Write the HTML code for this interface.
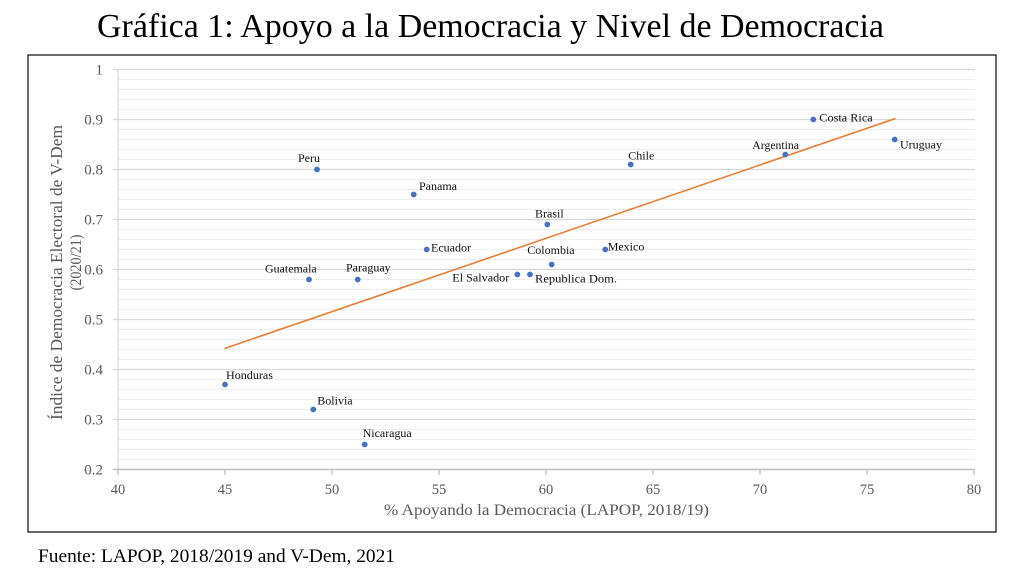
<!DOCTYPE html>
<html>
<head>
<meta charset="utf-8">
<style>
  html,body{margin:0;padding:0;background:#fff;}
  svg{display:block;}
  text{font-family:"Liberation Serif","Times New Roman",serif;}
</style>
</head>
<body>
<svg width="1024" height="576" viewBox="0 0 1024 576" xmlns="http://www.w3.org/2000/svg">
  <rect x="0" y="0" width="1024" height="576" fill="#fff"/>
  <!-- Title -->
  <text x="97" y="37" font-size="34" fill="#000" textLength="787" lengthAdjust="spacingAndGlyphs">Gráfica 1: Apoyo a la Democracia y Nivel de Democracia</text>

  <!-- chart box -->
  <rect x="28" y="55" width="968" height="477" fill="#fff" stroke="#3a3a3a" stroke-width="1.5"/>

  <!-- minor gridlines -->
  <g stroke="#efefef" stroke-width="1">
    <line x1="118" y1="79.5" x2="975" y2="79.5"/>
    <line x1="118" y1="89.5" x2="975" y2="89.5"/>
    <line x1="118" y1="99.5" x2="975" y2="99.5"/>
    <line x1="118" y1="109.5" x2="975" y2="109.5"/>
    <line x1="118" y1="129.5" x2="975" y2="129.5"/>
    <line x1="118" y1="139.5" x2="975" y2="139.5"/>
    <line x1="118" y1="149.5" x2="975" y2="149.5"/>
    <line x1="118" y1="159.5" x2="975" y2="159.5"/>
    <line x1="118" y1="179.5" x2="975" y2="179.5"/>
    <line x1="118" y1="189.5" x2="975" y2="189.5"/>
    <line x1="118" y1="199.5" x2="975" y2="199.5"/>
    <line x1="118" y1="209.5" x2="975" y2="209.5"/>
    <line x1="118" y1="229.5" x2="975" y2="229.5"/>
    <line x1="118" y1="239.5" x2="975" y2="239.5"/>
    <line x1="118" y1="249.5" x2="975" y2="249.5"/>
    <line x1="118" y1="259.5" x2="975" y2="259.5"/>
    <line x1="118" y1="279.5" x2="975" y2="279.5"/>
    <line x1="118" y1="289.5" x2="975" y2="289.5"/>
    <line x1="118" y1="299.5" x2="975" y2="299.5"/>
    <line x1="118" y1="309.5" x2="975" y2="309.5"/>
    <line x1="118" y1="329.5" x2="975" y2="329.5"/>
    <line x1="118" y1="339.5" x2="975" y2="339.5"/>
    <line x1="118" y1="349.5" x2="975" y2="349.5"/>
    <line x1="118" y1="359.5" x2="975" y2="359.5"/>
    <line x1="118" y1="379.5" x2="975" y2="379.5"/>
    <line x1="118" y1="389.5" x2="975" y2="389.5"/>
    <line x1="118" y1="399.5" x2="975" y2="399.5"/>
    <line x1="118" y1="409.5" x2="975" y2="409.5"/>
    <line x1="118" y1="429.5" x2="975" y2="429.5"/>
    <line x1="118" y1="439.5" x2="975" y2="439.5"/>
    <line x1="118" y1="449.5" x2="975" y2="449.5"/>
    <line x1="118" y1="459.5" x2="975" y2="459.5"/>
  </g>
  <!-- major gridlines -->
  <g stroke="#d9d9d9" stroke-width="1.2">
    <line x1="113" y1="69.5" x2="975" y2="69.5"/>
    <line x1="113" y1="119.5" x2="975" y2="119.5"/>
    <line x1="113" y1="169.5" x2="975" y2="169.5"/>
    <line x1="113" y1="219.5" x2="975" y2="219.5"/>
    <line x1="113" y1="269.5" x2="975" y2="269.5"/>
    <line x1="113" y1="319.5" x2="975" y2="319.5"/>
    <line x1="113" y1="369.5" x2="975" y2="369.5"/>
    <line x1="113" y1="419.5" x2="975" y2="419.5"/>
  </g>
  <!-- axes -->
  <line x1="118" y1="69.5" x2="118" y2="470" stroke="#d9d9d9" stroke-width="1.2"/>
  <line x1="113" y1="469.5" x2="975" y2="469.5" stroke="#bfbfbf" stroke-width="1.5"/>
  <g stroke="#bfbfbf" stroke-width="1.2">
    <line x1="118" y1="469.5" x2="118" y2="475"/>
    <line x1="225" y1="469.5" x2="225" y2="475"/>
    <line x1="332" y1="469.5" x2="332" y2="475"/>
    <line x1="439" y1="469.5" x2="439" y2="475"/>
    <line x1="546" y1="469.5" x2="546" y2="475"/>
    <line x1="653" y1="469.5" x2="653" y2="475"/>
    <line x1="760" y1="469.5" x2="760" y2="475"/>
    <line x1="867" y1="469.5" x2="867" y2="475"/>
    <line x1="974" y1="469.5" x2="974" y2="475"/>
  </g>

  <!-- y tick labels -->
  <g font-size="15" fill="#595959" text-anchor="end">
    <text x="103" y="74.5">1</text>
    <text x="103" y="124.5">0.9</text>
    <text x="103" y="174.5">0.8</text>
    <text x="103" y="224.5">0.7</text>
    <text x="103" y="274.5">0.6</text>
    <text x="103" y="324.5">0.5</text>
    <text x="103" y="374.5">0.4</text>
    <text x="103" y="424.5">0.3</text>
    <text x="103" y="474.5">0.2</text>
  </g>
  <!-- x tick labels -->
  <g font-size="14.5" fill="#595959" text-anchor="middle">
    <text x="118" y="494">40</text>
    <text x="225" y="494">45</text>
    <text x="332" y="494">50</text>
    <text x="439" y="494">55</text>
    <text x="546" y="494">60</text>
    <text x="653" y="494">65</text>
    <text x="760" y="494">70</text>
    <text x="867" y="494">75</text>
    <text x="974" y="494">80</text>
  </g>

  <!-- axis titles -->
  <text x="384" y="515" font-size="16" fill="#595959" textLength="325" lengthAdjust="spacingAndGlyphs">% Apoyando  la Democracia (LAPOP, 2018/19)</text>
  <text transform="translate(62,272.5) rotate(-90)" text-anchor="middle" font-size="17" fill="#595959" textLength="295" lengthAdjust="spacingAndGlyphs">Índice  de Democracia Electoral de V-Dem</text>
  <text transform="translate(81,262.5) rotate(-90)" text-anchor="middle" font-size="16" fill="#595959" textLength="56" lengthAdjust="spacingAndGlyphs">(2020/21)</text>

  <!-- trendline -->
  <line x1="224.5" y1="348.5" x2="895.5" y2="118.5" stroke="#ed7d31" stroke-width="1.6"/>

  <!-- points -->
  <g fill="#4472c4">
    <circle cx="317" cy="169.5" r="2.9"/>
    <circle cx="413.7" cy="194.5" r="2.9"/>
    <circle cx="630.7" cy="164.5" r="2.9"/>
    <circle cx="813.3" cy="119.5" r="2.9"/>
    <circle cx="785.3" cy="154.5" r="2.9"/>
    <circle cx="894.7" cy="139.5" r="2.9"/>
    <circle cx="547.3" cy="224.5" r="2.9"/>
    <circle cx="426.7" cy="249.5" r="2.9"/>
    <circle cx="605.3" cy="249.5" r="2.9"/>
    <circle cx="551.7" cy="264.5" r="2.9"/>
    <circle cx="517.3" cy="274.5" r="2.9"/>
    <circle cx="530" cy="274.5" r="2.9"/>
    <circle cx="309" cy="279.5" r="2.9"/>
    <circle cx="357.7" cy="279.5" r="2.9"/>
    <circle cx="225" cy="384.5" r="2.9"/>
    <circle cx="313.3" cy="409.5" r="2.9"/>
    <circle cx="364.7" cy="444.5" r="2.9"/>
  </g>

  <!-- data labels -->
  <g font-size="12" fill="#111">
    <text x="298" y="162">Peru</text>
    <text x="419" y="190">Panama</text>
    <text x="628.3" y="159.5">Chile</text>
    <text x="819.3" y="121.5" textLength="53.4" lengthAdjust="spacingAndGlyphs">Costa Rica</text>
    <text x="752.3" y="149" textLength="46.7" lengthAdjust="spacingAndGlyphs">Argentina</text>
    <text x="900" y="148.5">Uruguay</text>
    <text x="535" y="217.5">Brasil</text>
    <text x="431" y="251.5">Ecuador</text>
    <text x="607.7" y="250.5">Mexico</text>
    <text x="527.3" y="254">Colombia</text>
    <text x="452.3" y="281.5" textLength="57" lengthAdjust="spacingAndGlyphs">El Salvador</text>
    <text x="535" y="282.5" textLength="82" lengthAdjust="spacingAndGlyphs">Republica  Dom.</text>
    <text x="265" y="272.5" textLength="51.7" lengthAdjust="spacingAndGlyphs">Guatemala</text>
    <text x="346" y="271.5">Paraguay</text>
    <text x="226" y="379" textLength="47" lengthAdjust="spacingAndGlyphs">Honduras</text>
    <text x="317.3" y="404.5">Bolivia</text>
    <text x="362.7" y="437" textLength="49" lengthAdjust="spacingAndGlyphs">Nicaragua</text>
  </g>

  <!-- footer -->
  <text x="38" y="562" font-size="19" fill="#000" textLength="357" lengthAdjust="spacingAndGlyphs">Fuente:  LAPOP, 2018/2019 and V-Dem, 2021</text>
</svg>
</body>
</html>
